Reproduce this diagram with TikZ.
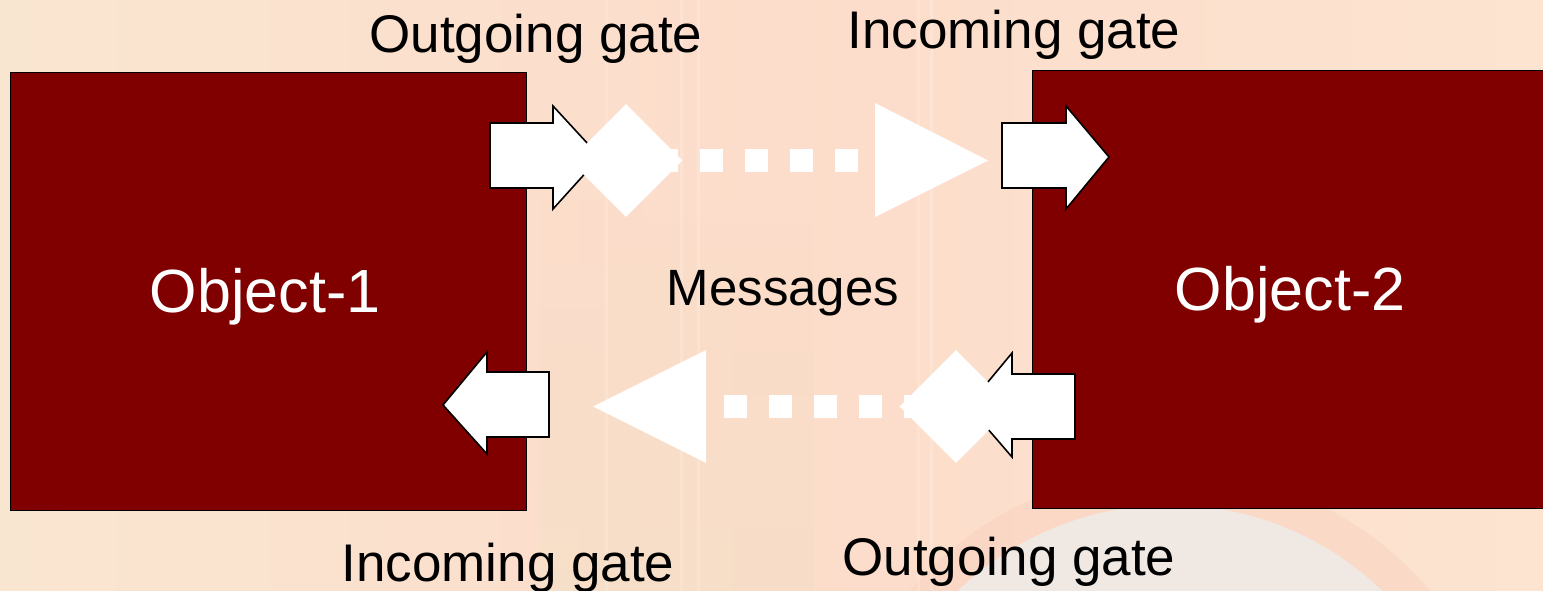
\documentclass[tikz,border=0pt]{standalone}
\usepackage{fontspec}
\setmainfont{Liberation Sans}
\usetikzlibrary{shapes.geometric}

\definecolor{objred}{HTML}{800000}
\definecolor{bgleft}{HTML}{F9E6D1}
\definecolor{bgmid}{HTML}{FCDCCA}
\definecolor{bgright}{HTML}{FCE4D0}
\definecolor{bgsand}{HTML}{F3DFC6}
\definecolor{ringtint}{HTML}{F8D0BD}
\definecolor{discgrey}{HTML}{EFEBE7}

\begin{document}
\begin{tikzpicture}[x=1pt,y=-1pt,
  objbox/.style={fill=objred, draw=black, line width=1.2pt, inner sep=0, anchor=north west},
  gate/.style={fill=white, draw=black, line width=1.6pt, line join=miter},
  gatelabel/.style={font=\fontsize{53}{60}\selectfont, text=black, inner sep=0, anchor=base},
  objlabel/.style={font=\fontsize{61}{70}\selectfont, text=white, inner sep=0, anchor=base},
  msgdiamond/.style={diamond, fill=white, minimum width=113pt, minimum height=113pt, inner sep=0, aspect=1},
  msghead/.style={fill=white},
  msgline/.style={white, line width=23pt, dash pattern=on 23pt off 22pt, dash phase=16pt}]

% canvas
\useasboundingbox (0,0) rectangle (1543,591);
\clip (0,0) rectangle (1543,591);
\shade[left color=bgleft, right color=bgright, middle color=bgmid] (0,0) rectangle (1543,591);
\shade[top color=bgmid, bottom color=bgsand, opacity=0.5] (540,200) rectangle (813,591);
\fill[ringtint, opacity=0.45] (1170,810) circle (340);
\fill[discgrey, opacity=0.9] (1170,810) circle (305);
\foreach \sx in {605,680,697,917,930} {
  \fill[white, opacity=0.18] (\sx,0) rectangle ++(3,591);
}

% objects
\node[objbox, minimum width=516pt, minimum height=438pt] (obj1) at (10,72) {};
\node[objbox, minimum width=530pt, minimum height=438pt] (obj2) at (1032,70) {};
\node[objlabel] (obj1txt) at (265,312) {Object-1};
\node[objlabel] (obj2txt) at (1290,310) {Object-2};

% gate arrows
\filldraw[gate] (490,123) -- (553,123) -- (553,106) -- (600,157) -- (553,209) -- (553,188) -- (490,188) -- cycle;
\filldraw[gate] (1002,123) -- (1066,123) -- (1066,106) -- (1109,157) -- (1066,209) -- (1066,188) -- (1002,188) -- cycle;
\filldraw[gate] (549,372) -- (487,372) -- (487,352) -- (443,405) -- (487,454) -- (487,437) -- (549,437) -- cycle;
\filldraw[gate] (1075,374) -- (1012,374) -- (1012,353) -- (968,406) -- (1012,457) -- (1012,439) -- (1075,439) -- cycle;

% message from Object-1 to Object-2
\node[msgdiamond] (d1) at (626,160.5) {};
\fill[msghead] (875,103) -- (988,160.5) -- (875,217) -- cycle;
\coordinate (t1) at (875,160.5);
\draw[msgline] (d1.center) -- (t1);

% message from Object-2 to Object-1
\node[msgdiamond] (d2) at (956,406.5) {};
\fill[msghead] (706,350) -- (593,406.5) -- (706,463) -- cycle;
\coordinate (t2) at (706,406.5);
\draw[msgline] (d2.center) -- (t2);

% labels
\node[gatelabel] (out1) at (536,53) {Outgoing gate};
\node[gatelabel] (in2) at (1014,49) {Incoming gate};
\node[gatelabel] (in1) at (508,581) {Incoming gate};
\node[gatelabel] (out2) at (1009,575) {Outgoing gate};
\node[font=\fontsize{51}{60}\selectfont, inner sep=0, anchor=base] (msg) at (783,305) {Messages};
\end{tikzpicture}
\end{document}
